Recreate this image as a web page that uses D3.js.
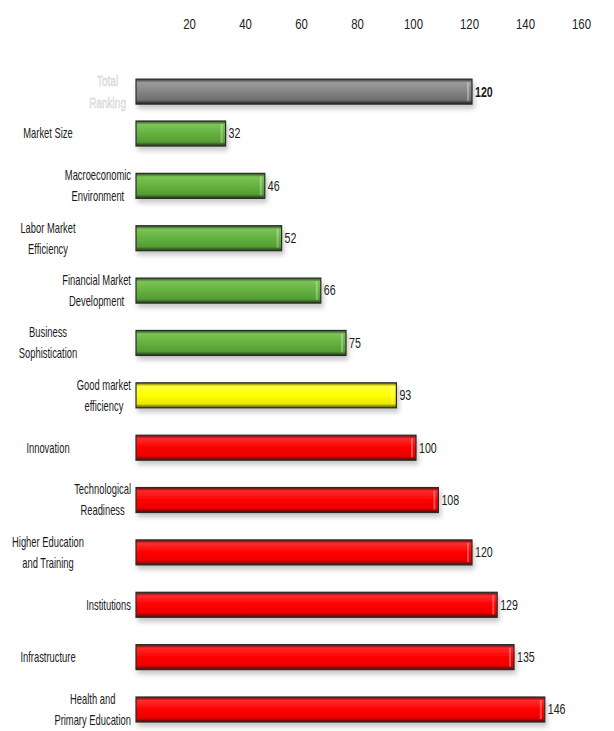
<!DOCTYPE html>
<html>
<head>
<meta charset="utf-8">
<script src="https://d3js.org/d3.v7.min.js"></script>
<style>
  body { margin: 0; background: #fff; }
  text { font-family: "Liberation Sans", Arial, sans-serif; }
</style>
</head>
<body>
<script>
'use strict';

(function() {

  // rankings
  const totalLabel = ["Total", "Ranking"];
  const totalValue = 120;

  const categories = [
    ["Market Size"],
    ["Macroeconomic", "Environment"],
    ["Labor Market", "Efficiency"],
    ["Financial Market", "Development"],
    ["Business", "Sophistication"],
    ["Good market", "efficiency"],
    ["Innovation"],
    ["Technological", "Readiness"],
    ["Higher Education", "and Training"],
    ["Institutions"],
    ["Infrastructure"],
    ["Health and", "Primary Education"]
  ];
  const values = [32, 46, 52, 66, 75, 93, 100, 108, 120, 129, 135, 146];
  const tiers = ["good", "good", "good", "good", "good", "mid",
                 "bad", "bad", "bad", "bad", "bad", "bad"];
  const tickValues = [20, 40, 60, 80, 100, 120, 140, 160];

  // the source uses a tall narrow font, squeeze Liberation Sans to match
  const squeeze = 0.76;
  const labelSqueeze = 0.67;

  let svgContainer = "";

  window.onload = function() {
    svgContainer = d3.select('body')
      .append('svg')
      .attr('width', 614)
      .attr('height', 731);

    makeDefs();
    let map = drawAxes();
    plotData(map);
    makeLabels(map);
  };

  // gradients + drop shadow for the glossy bars
  function makeDefs() {
    let defs = svgContainer.append('defs');

    let grads = {
      total: ['#3a3a3a', '#9c9c9c', '#858585', '#6e6e6e', '#1e1e1e'],
      good:  ['#2e4f22', '#7cc356', '#64b23f', '#559c34', '#1f3518'],
      mid:   ['#6b6b00', '#ffff3a', '#ffff00', '#e8e800', '#4a4a10'],
      bad:   ['#5a1010', '#ff2a2a', '#ff0000', '#ea0000', '#3a1414']
    };
    let stops = [0, 0.14, 0.5, 0.84, 1];

    Object.keys(grads).forEach(k => {
      let g = defs.append('linearGradient')
        .attr('id', 'grad-' + k)
        .attr('x1', 0).attr('y1', 0)
        .attr('x2', 0).attr('y2', 1);
      grads[k].forEach((c, i) => {
        g.append('stop')
          .attr('offset', stops[i])
          .attr('stop-color', c);
      });
    });

    let f = defs.append('filter')
      .attr('id', 'shadow')
      .attr('x', '-5%').attr('y', '-30%')
      .attr('width', '115%').attr('height', '190%');
    f.append('feDropShadow')
      .attr('dx', 2).attr('dy', 4)
      .attr('stdDeviation', 2.5)
      .attr('flood-color', '#000')
      .attr('flood-opacity', 0.22);
  }

  // scales and the top axis
  function drawAxes() {
    let xScale = d3.scaleLinear()
      .domain([0, 160])
      .range([136, 584]);

    let yScale = d3.scalePoint()
      .domain(d3.range(categories.length))
      .range([133.5, 709.5]);

    let xAxis = d3.axisTop(xScale)
      .tickValues(tickValues)
      .tickSize(0)
      .tickPadding(0);

    let ax = svgContainer.append('g')
      .attr('transform', 'translate(-3, 29)')
      .call(xAxis);
    ax.select('.domain').remove();
    ax.selectAll('text')
      .style('font-size', '15px')
      .style('font-family', '"Liberation Sans", Arial, sans-serif')
      .attr('transform', 'scale(' + squeeze + ',1)')
      .attr('fill', '#222');

    return { x: xScale, y: yScale };
  }

  // squeezed text at a point
  function putText(parent, x, y, str, sx) {
    return parent.append('text')
      .attr('transform', 'translate(' + x + ',' + y + ') scale(' + sx + ',1)')
      .attr('dy', '0.35em')
      .text(str);
  }

  function textWidth(str, size, sx) {
    let tmp = svgContainer.append('text').style('font-size', size + 'px').text(str);
    let w = tmp.node().getComputedTextLength() * sx;
    tmp.remove();
    return w;
  }

  // all the bars, including the total ranking one on top
  function plotData(map) {
    let x = map.x, y = map.y;
    let barH = 25;
    let totalY = y(0) - y.step() * 0.8;

    let rows = values.map((v, i) => ({ v: v, tier: tiers[i], cy: y(i) }));
    rows.unshift({ v: totalValue, tier: 'total', cy: totalY, total: true });

    svgContainer.selectAll('.bar')
      .data(rows)
      .enter()
      .append('rect')
        .attr('class', 'bar')
        .attr('x', x(0))
        .attr('y', d => d.cy - barH / 2)
        .attr('width', d => x(d.v) - x(0))
        .attr('height', barH)
        .attr('fill', d => 'url(#grad-' + d.tier + ')')
        .attr('stroke', '#2b2b2b')
        .attr('stroke-width', 1.2)
        .attr('filter', 'url(#shadow)');

    // small highlight near the right end of each bar
    svgContainer.selectAll('.shine')
      .data(rows)
      .enter()
      .append('rect')
        .attr('class', 'shine')
        .attr('x', d => x(d.v) - 5)
        .attr('y', d => d.cy - barH / 2 + 3)
        .attr('width', 2)
        .attr('height', barH - 6)
        .attr('fill', '#fff')
        .attr('opacity', 0.3);

    rows.forEach(d => {
      putText(svgContainer, x(d.v) + 3, d.cy, d.v, squeeze)
        .style('font-size', '14px')
        .style('font-weight', d.total ? 'bold' : 'normal')
        .attr('fill', '#1a1a1a');
    });
  }

  // category names on the left, alternating between two columns
  function makeLabels(map) {
    let y = map.y;
    let lineGap = 21;

    categories.forEach((lines, i) => {
      let cy = y(i);
      let widths = lines.map(t => textWidth(t, 14, labelSqueeze));
      let cx = 48;
      if (i % 2 === 1) cx = 131 - d3.max(widths) / 2;
      lines.forEach((t, j) => {
        putText(svgContainer, cx, cy + (j - (lines.length - 1) / 2) * lineGap, t, labelSqueeze)
          .attr('text-anchor', 'middle')
          .style('font-size', '14px')
          .attr('fill', '#1a1a1a');
      });
    });

    // the washed-out "Total Ranking" label
    let totalY = y(0) - y.step() * 0.8;
    let tw = d3.max(totalLabel, t => textWidth(t, 15, labelSqueeze));
    totalLabel.forEach((t, j) => {
      putText(svgContainer, 126 - tw / 2, totalY + (j - 0.5) * 22, t, labelSqueeze)
        .attr('text-anchor', 'middle')
        .style('font-size', '15px')
        .attr('fill', '#e6e6e6')
        .attr('stroke', '#cfcfcf')
        .attr('stroke-width', 0.4);
    });
  }

})();
</script>
</body>
</html>
